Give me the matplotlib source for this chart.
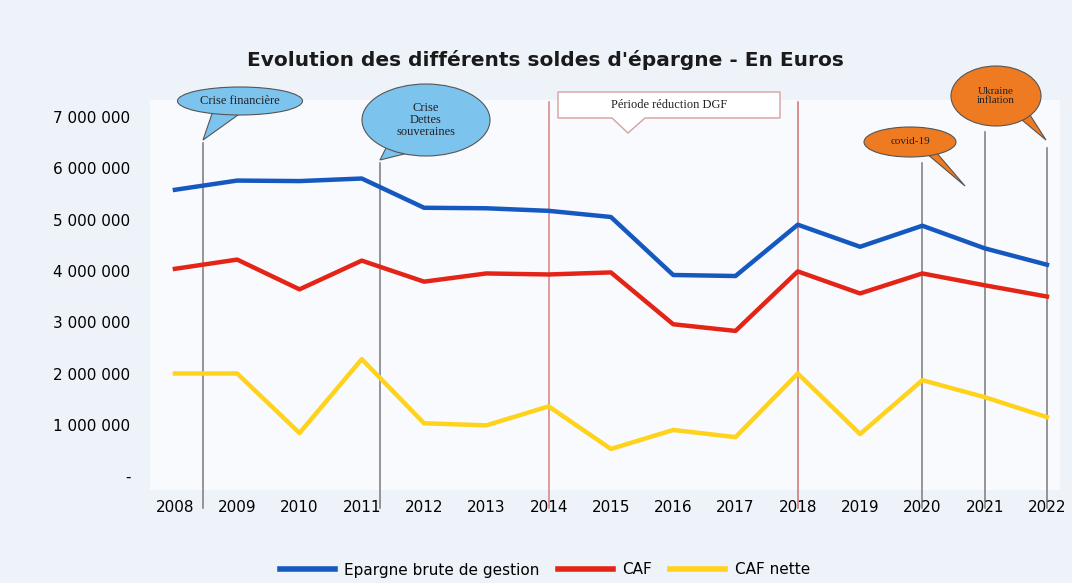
import matplotlib

matplotlib.use("Agg")
import matplotlib.patches as mpatches
import matplotlib.pyplot as plt
from matplotlib.lines import Line2D

years = list(range(2008, 2023))
epargne_brute = [5.58, 5.76, 5.75, 5.80, 5.23, 5.22, 5.17, 5.05, 3.92, 3.90,
                 4.90, 4.47, 4.88, 4.44, 4.12]
caf = [4.04, 4.22, 3.64, 4.20, 3.79, 3.95, 3.93, 3.97, 2.96, 2.83,
       3.99, 3.56, 3.95, 3.72, 3.50]
caf_nette = [2.00, 2.00, 0.84, 2.28, 1.03, 0.99, 1.36, 0.53, 0.90, 0.76,
             2.00, 0.82, 1.87, 1.54, 1.15]
series_labels = ["Epargne brute de gestion", "CAF", "CAF nette"]
series_colors = ["#1558c0", "#e42417", "#ffd21c"]
yticks = [0, 1, 2, 3, 4, 5, 6, 7]
ytick_labels = ["-", "1 000 000", "2 000 000", "3 000 000", "4 000 000",
                "5 000 000", "6 000 000", "7 000 000"]

# event markers: (x position in years, top in millions, colour)
events = [(2008.45, 6.5, "#7a7a7a"), (2011.3, 6.1, "#7a7a7a"),
          (2014.0, 7.3, "#d88080"), (2018.0, 7.3, "#d07070"),
          (2020.0, 6.1, "#7a7a7a"), (2021.0, 6.7, "#7a7a7a"),
          (2022.0, 6.4, "#7a7a7a")]

fig = plt.figure(figsize=(10.72, 5.83), dpi=100)
fig.patch.set_facecolor("#eef3f9")

ax = fig.add_axes([150 / 1072, 1 - 490 / 583, 910 / 1072, 390 / 583])
ax.set_facecolor("#f8fafd")
for s in ax.spines.values():
    s.set_visible(False)

for xv, top, col in events:
    ax.plot([xv, xv], [-0.62, top], color=col, lw=1.1, clip_on=False, zorder=1)

for vals, col in zip([epargne_brute, caf, caf_nette], series_colors):
    ax.plot(years, vals, color=col, lw=3.2, zorder=3, solid_joinstyle="round")

ax.set_xlim(2007.6, 2022.21)
ax.set_ylim(-0.27, 7.33)
ax.set_xticks(years)
ax.set_xticklabels([str(y) for y in years], fontsize=11)
ax.set_yticks(yticks)
ax.set_yticklabels(ytick_labels, fontsize=11)
ax.tick_params(axis="x", length=0, pad=7)
ax.tick_params(axis="y", length=0, pad=14)

# overlay in pixel coordinates for title, bubbles and legend
ov = fig.add_axes([0, 0, 1, 1], facecolor="none")
ov.set_xlim(0, 1072)
ov.set_ylim(583, 0)
ov.set_axis_off()

ov.text(545, 60, "Evolution des différents soldes d'épargne - En Euros",
        ha="center", va="center", fontsize=14.5, fontweight="bold",
        color="#1a1a1a")


def bubble(cx, cy, w, h, tail, color, text, fs):
    ov.add_patch(mpatches.Polygon(tail, closed=True, facecolor=color,
                                  edgecolor="#555555", lw=0.8, zorder=4))
    ov.add_patch(mpatches.Ellipse((cx, cy), w, h, facecolor=color,
                                  edgecolor="#555555", lw=0.8, zorder=5))
    ov.text(cx, cy, text, ha="center", va="center", fontsize=fs,
            family="Liberation Serif", color="#222222", zorder=6,
            linespacing=1.0)


bubble(240, 101, 125, 28, [(215, 105), (203, 140), (245, 110)],
       "#7cc3ee", "Crise financière", 9)
bubble(426, 120, 128, 72, [(390, 140), (380, 160), (420, 150)],
       "#7cc3ee", "Crise\nDettes\nsouveraines", 9)
bubble(910, 142, 92, 30, [(920, 148), (965, 186), (930, 145)],
       "#ee7a22", "covid-19", 8)
bubble(996, 96, 90, 60, [(1010, 110), (1046, 140), (1030, 115)],
       "#ee7a22", "Ukraine\ninflation", 8)

# rectangle callout
ov.add_patch(mpatches.Polygon([(558, 92), (780, 92), (780, 118), (645, 118),
                               (628, 133), (612, 118), (558, 118)],
                              closed=True, facecolor="white",
                              edgecolor="#d6a0a0", lw=1.0, zorder=5))
ov.text(669, 105, "Période réduction DGF", ha="center", va="center",
        fontsize=9, family="Liberation Serif", color="#222222", zorder=6)

handles = [Line2D([0], [0], color=c, lw=4) for c in series_colors]
fig.legend(handles, series_labels, loc="center", bbox_to_anchor=(545 / 1072, 1 - 570 / 583),
           ncol=3, frameon=False, fontsize=11, handlelength=3.6,
           columnspacing=1.2, handletextpad=0.6)

fig.savefig("out.png", dpi=100, facecolor=fig.get_facecolor())
